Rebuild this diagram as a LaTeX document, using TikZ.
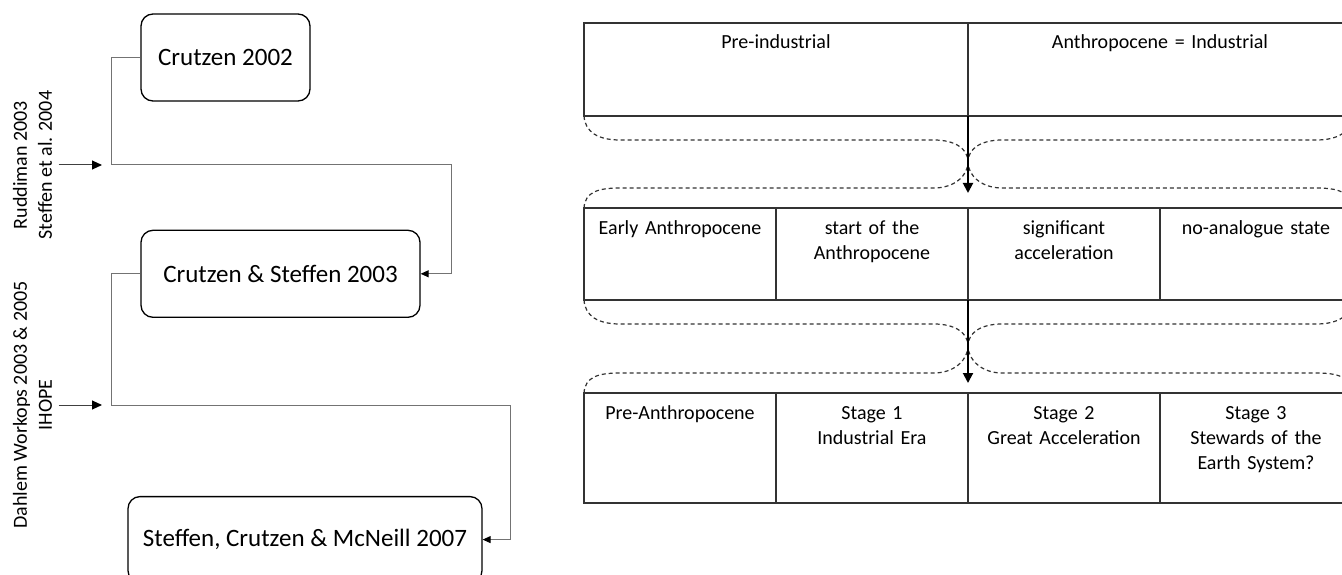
\documentclass[tikz,border=0pt]{standalone}
\usepackage{fontspec}
\setmainfont{Carlito}
\usepackage{tikz}
\usetikzlibrary{positioning,arrows.meta}
\tikzstyle{paper}=[rectangle, draw=black, rounded corners=12pt, line width=1.3pt, text centered, inner sep=0pt, minimum height=87pt, font=\fontsize{25}{30}\selectfont]
\tikzstyle{cell}=[rectangle, draw=black!80, line width=1.2pt, inner sep=0pt, outer sep=0pt, text width=186pt, align=center, minimum width=192pt, text height=26pt]
\tikzstyle{sidelabel}=[rotate=90, align=center]
\tikzstyle{link}=[draw=black!55, line width=1pt, -{Triangle[length=8pt,width=7pt,color=black]}]
\tikzstyle{feed}=[draw=black!75, line width=1pt, -{Triangle[length=10pt,width=9pt,color=black]}]
\tikzstyle{brace}=[draw=black!80, line width=1.2pt, dash pattern=on 4pt off 3pt]
\tikzstyle{steparrow}=[draw=black, line width=2pt, -{Triangle[length=10pt,width=10pt]}]

\begin{document}
\begin{tikzpicture}[x=1pt, y=-1pt, font=\fontsize{20}{25}\selectfont]
        \useasboundingbox (0,0) rectangle (1342,575);
        \clip (0,0) rectangle (1342,575);
        % papers on the left
        \node(cr02)[paper, minimum width=169pt] at (225.5,57.5){
            Crutzen 2002
        };
        \node(cs03)[paper, minimum width=279pt, below=128pt of cr02.south west, anchor=north west]{
            Crutzen \& Steffen 2003
        };
        \node(ms07)[paper, minimum width=354pt, minimum height=86pt, below=178pt of cs03.south west, anchor=north west, xshift=-13pt]{
            Steffen, Crutzen \& McNeill 2007
        };
        \node(lab1)[sidelabel] at (32.5,165){
            Ruddiman 2003\\Steffen et al. 2004
        };
        \node(lab2)[sidelabel] at (32.5,405){
            Dahlem Workops 2003 \& 2005\\IHOPE
        };
        \coordinate (j1) at (111,165);
        \coordinate (j2) at (451,165);
        \coordinate (j3) at (111,405);
        \coordinate (j4) at (510,405);
        \draw[link] (cr02.west) -| (j1) -- (j2) |- (cs03.east);
        \draw[link] (cs03.west) -| (j3) -- (j4) |- (ms07.east);
        \draw[feed, shorten <=3pt, shorten >=9pt] (lab1.south) -- (j1);
        \draw[feed, shorten <=3pt, shorten >=9pt] (lab2.south) -- (j3);
        % tables on the right
        \node(preind)[cell, minimum width=384pt, text width=370pt, minimum height=93pt, text depth=67pt, anchor=north west] at (584,23){
            Pre-industrial
        };
        \node(anthind)[cell, minimum width=384pt, text width=370pt, minimum height=93pt, text depth=67pt, right=0pt of preind]{
            Anthropocene = Industrial
        };
        \node(early)[cell, minimum height=92pt, text depth=66pt, below=92pt of preind.south west, anchor=north west]{
            Early Anthropocene
        };
        \node(startA)[cell, minimum height=92pt, text depth=66pt, right=0pt of early]{
            start of the\\Anthropocene
        };
        \node(signif)[cell, minimum height=92pt, text depth=66pt, right=0pt of startA]{
            significant\\acceleration
        };
        \node(noanal)[cell, minimum height=92pt, text depth=66pt, right=0pt of signif]{
            no-analogue state
        };
        \node(preanth)[cell, minimum height=110pt, text depth=84pt, below=93pt of early.south west, anchor=north west]{
            Pre-Anthropocene
        };
        \node(stage1)[cell, minimum height=110pt, text depth=84pt, right=0pt of preanth]{
            Stage 1\\Industrial Era
        };
        \node(stage2)[cell, minimum height=110pt, text depth=84pt, right=0pt of stage1]{
            Stage 2\\Great Acceleration
        };
        \node(stage3)[cell, minimum height=110pt, text depth=84pt, right=0pt of stage2]{
            Stage 3\\Stewards of the\\Earth System?
        };
        % dashed braces
        \draw[brace] (preind.south west) .. controls +(1,16) and +(-22,0) .. (620,140) -- (934,140) .. controls +(20,0) and +(0,-14) .. (968,162) .. controls +(0,-14) and +(-20,0) .. (1002,140) -- (1316,140) .. controls +(22,0) and +(-1,16) .. (anthind.south east);
        \draw[brace] (early.north west) .. controls +(1,-16) and +(-22,0) .. (620,188) -- (934,188) .. controls +(20,0) and +(0,14) .. (968,162) .. controls +(0,14) and +(-20,0) .. (1002,188) -- (1316,188) .. controls +(22,0) and +(-1,-16) .. (noanal.north east);
        \draw[brace] (early.south west) .. controls +(1,16) and +(-22,0) .. (620,324) -- (934,324) .. controls +(20,0) and +(0,-14) .. (968,346) .. controls +(0,-14) and +(-20,0) .. (1002,324) -- (1316,324) .. controls +(22,0) and +(-1,16) .. (noanal.south east);
        \draw[brace] (preanth.north west) .. controls +(1,-16) and +(-22,0) .. (620,373) -- (934,373) .. controls +(20,0) and +(0,14) .. (968,346) .. controls +(0,14) and +(-20,0) .. (1002,373) -- (1316,373) .. controls +(22,0) and +(-1,-16) .. (stage3.north east);
        \draw[steparrow, shorten >=15pt] (preind.south east) -- (startA.north east);
        \draw[steparrow, shorten >=10pt] (startA.south east) -- (stage1.north east);
    \end{tikzpicture}
\end{document}
